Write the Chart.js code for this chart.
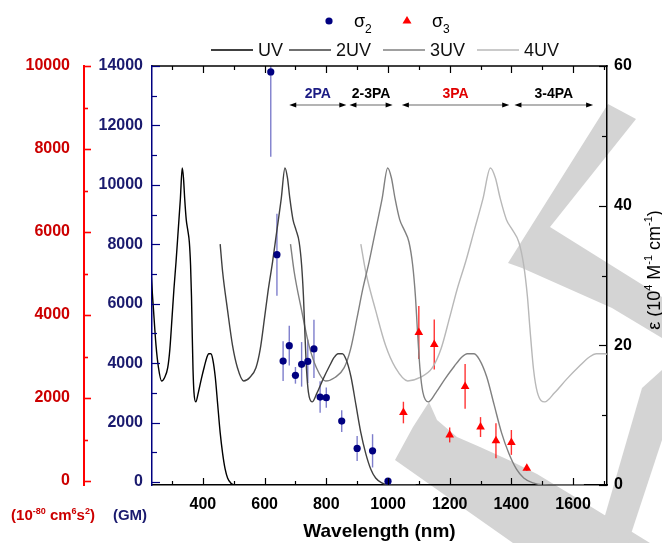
<!DOCTYPE html>
<html><head><meta charset="utf-8">
<script src="https://cdn.jsdelivr.net/npm/chart.js@4.4.1/dist/chart.umd.min.js"></script>
<style>html,body{margin:0;padding:0;background:#fff}#wrap{width:662px;height:543px}</style>
</head><body><div id="wrap"><canvas id="c" width="662" height="543"></canvas></div>
<script>
// ---------------- data ----------------
const uvWavelength  = [228,232,240,248,256,266,276,286,293,300,306,313,320,327,333,337,341,346,351,356,360,363,365,368,371,377,385,395,405,413,419,426,432,440,448,456,464,472,480,490,500,545];
const uv2Wavelength = [456,464,480,496,512,532,552,572,586,600,612,626,640,654,666,674,682,692,702,712,720,726,730,736,742,754,770,790,810,826,838,852,864,880,896,912,928,944,960,980,1000,1090];
const uv3Wavelength = [684,696,720,744,768,798,828,858,879,900,918,939,960,981,999,1011,1023,1038,1053,1068,1080,1089,1095,1104,1113,1131,1155,1185,1215,1239,1257,1278,1296,1320,1344,1368,1392,1416,1440,1470,1500,1635];
const uv4Wavelength = [912,928,960,992,1024,1064,1104,1144,1172,1200,1224,1252,1280,1308,1332,1348,1364,1384,1404,1424,1440,1452,1460,1472,1484,1508,1540,1580,1620,1652,1676,1704,1728,1760,1792,1824,1856,1888,1920,1960,2000,2180];
const uvEpsilon     = [34.5,30.5,25,20,16.8,14.9,15.4,16.8,19.5,24,28,32,36.5,41,45.4,44,41,38,36.5,34.8,31.5,27,22.5,16.5,13.3,11.9,13.2,15.2,17,18.3,18.8,18.8,18,15.5,11.5,7.5,4.5,2.3,1.0,0.3,0.05,0];

const sigma2Wavelength = [620,640,660,680,700,720,740,760,780,800,850,900,950,1000];
const sigma2Value      = [13800,7650,4070,4590,3590,3960,4060,4480,2860,2840,2050,1130,1050,30];
const sigma2Error      = [2850,1380,670,670,280,750,730,980,530,340,365,420,560,50];

const sigma3Wavelength = [1050,1100,1150,1200,1250,1300,1350,1400,1450];
const sigma3Value      = [1650,3580,3290,1110,2280,1300,970,930,310];
const sigma3Error      = [260,640,600,180,540,240,420,300,60];

const regionLabels = ['2PA','2-3PA','3PA','3-4PA'];
const regionStart  = [680,875,1045,1410];
const regionEnd    = [865,1015,1393,1665];

const xTicks      = [400,600,800,1000,1200,1400,1600];
const gmTicks     = [0,2000,4000,6000,8000,10000,12000,14000];
const sigma3Ticks = [0,2000,4000,6000,8000,10000];
const epsTicks    = [0,20,40,60];

// ---------------- helpers ----------------
const FONT = 'Liberation Sans';
const pts = (xs, ys) => xs.map((x, i) => ({x: x, y: ys[i]}));
const setTicks = arr => s => { s.ticks = arr.map(v => ({value: v})); };
const plain = v => String(v);
const tickFont = {family: FONT, size: 16, weight: 'bold'};

function drawRich(ctx, parts, x, y, size, weight, color) {
  const supSize = Math.round(size * 0.62);
  let w = 0;
  parts.forEach(p => {
    ctx.font = (weight ? weight + ' ' : '') + (p[1] ? supSize : size) + 'px ' + FONT;
    w += ctx.measureText(p[0]).width;
  });
  let cx = x - w / 2;
  ctx.fillStyle = color;
  ctx.textBaseline = 'alphabetic';
  ctx.textAlign = 'left';
  parts.forEach(p => {
    ctx.font = (weight ? weight + ' ' : '') + (p[1] ? supSize : size) + 'px ' + FONT;
    ctx.fillText(p[0], cx, p[1] ? y - size * 0.42 : y);
    cx += ctx.measureText(p[0]).width;
  });
}

// ---------------- plugins ----------------
const decor = {
  id: 'decor',
  beforeDraw(chart) {
    const ctx = chart.ctx;
    ctx.save();
    ctx.fillStyle = '#fff';
    ctx.fillRect(0, 0, chart.width, chart.height);
    // decorative background watermark (not data)
    ctx.fillStyle = 'rgb(212,212,212)';
    const polys = [
      [[608,104],[636,119],[550,227],[662,297],[662,338],[612,308],[522,268],[508,263]],
      [[429,402],[437,420],[457,437],[480,447],[513,462],[537,474],[580,500],[650,543],[513,543],[395,460],[413,427]],
      [[642,388],[662,370],[662,440],[628,543],[597,543]]
    ];
    polys.forEach(p => {
      ctx.beginPath();
      p.forEach((q, i) => i ? ctx.lineTo(q[0], q[1]) : ctx.moveTo(q[0], q[1]));
      ctx.closePath();
      ctx.fill();
    });
    ctx.restore();
  },
  beforeDatasetsDraw(chart) {
    const ctx = chart.ctx, xs = chart.scales.x, a = chart.chartArea;
    ctx.save();
    ctx.beginPath();
    ctx.rect(a.left, a.top, a.right - a.left, a.bottom - a.top);
    ctx.clip();
    const bars = (wl, val, err, scale, color) => {
      ctx.strokeStyle = color;
      ctx.lineWidth = 1.4;
      wl.forEach((w, i) => {
        const px = xs.getPixelForValue(w);
        ctx.beginPath();
        ctx.moveTo(px, scale.getPixelForValue(val[i] - err[i]));
        ctx.lineTo(px, scale.getPixelForValue(val[i] + err[i]));
        ctx.stroke();
      });
    };
    bars(sigma2Wavelength, sigma2Value, sigma2Error, chart.scales.y, 'rgba(40,40,170,0.6)');
    bars(sigma3Wavelength, sigma3Value, sigma3Error, chart.scales.y3, 'rgba(255,0,0,0.8)');
    ctx.restore();
  },
  afterDraw(chart) {
    const ctx = chart.ctx, a = chart.chartArea;
    const xs = chart.scales.x, yg = chart.scales.y, y3 = chart.scales.y3, ye = chart.scales.yE;
    ctx.save();
    // top frame
    ctx.strokeStyle = '#000';
    ctx.lineWidth = 1.5;
    ctx.beginPath(); ctx.moveTo(a.left, a.top); ctx.lineTo(a.right + 0.75, a.top); ctx.stroke();
    // x ticks (bottom & top, inward)
    ctx.lineWidth = 1.2;
    for (let v = 300; v <= 1700; v += 100) {
      const px = Math.round(xs.getPixelForValue(v)) + 0.5;
      const L = v % 200 === 0 ? 7 : 4;
      ctx.beginPath();
      ctx.moveTo(px, a.bottom); ctx.lineTo(px, a.bottom - L);
      ctx.moveTo(px, a.top); ctx.lineTo(px, a.top + L);
      ctx.stroke();
    }
    // right axis ticks
    for (let v = 0; v <= 60; v += 10) {
      const py = Math.round(ye.getPixelForValue(v)) + 0.5;
      const L = v % 20 === 0 ? 8 : 5;
      ctx.beginPath(); ctx.moveTo(a.right, py); ctx.lineTo(a.right - L, py); ctx.stroke();
    }
    // blue axis ticks
    ctx.strokeStyle = '#000080';
    for (let v = 0; v <= 14000; v += 1000) {
      const py = Math.round(yg.getPixelForValue(v)) + 0.5;
      const L = v % 2000 === 0 ? 8 : 5;
      ctx.beginPath(); ctx.moveTo(a.left, py); ctx.lineTo(a.left + L, py); ctx.stroke();
    }
    // red axis ticks
    ctx.strokeStyle = '#ff0000';
    ctx.lineWidth = 1.6;
    for (let v = 0; v <= 10000; v += 1000) {
      const py = Math.round(y3.getPixelForValue(v)) + 0.5;
      const L = v % 2000 === 0 ? 7 : 4;
      ctx.beginPath(); ctx.moveTo(y3.right, py); ctx.lineTo(y3.right + L, py); ctx.stroke();
    }
    // region arrows
    const regionColors = ['#1c1c84', '#000', '#e00000', '#000'];
    const ay = 105;
    regionLabels.forEach((lab, i) => {
      const x1 = xs.getPixelForValue(regionStart[i]);
      const x2 = xs.getPixelForValue(regionEnd[i]);
      ctx.strokeStyle = '#b4b4b4';
      ctx.lineWidth = 2;
      ctx.beginPath(); ctx.moveTo(x1 + 3, ay); ctx.lineTo(x2 - 3, ay); ctx.stroke();
      ctx.fillStyle = '#000';
      ctx.beginPath(); ctx.moveTo(x1, ay); ctx.lineTo(x1 + 7, ay - 2.5); ctx.lineTo(x1 + 7, ay + 2.5); ctx.closePath(); ctx.fill();
      ctx.beginPath(); ctx.moveTo(x2, ay); ctx.lineTo(x2 - 7, ay - 2.5); ctx.lineTo(x2 - 7, ay + 2.5); ctx.closePath(); ctx.fill();
      ctx.font = 'bold 14px ' + FONT;
      ctx.fillStyle = regionColors[i];
      ctx.textAlign = 'center';
      ctx.textBaseline = 'alphabetic';
      ctx.fillText(lab, (x1 + x2) / 2, 97.5);
    });
    // legend row 1
    ctx.fillStyle = '#000080';
    ctx.beginPath(); ctx.arc(329, 21, 3.6, 0, Math.PI * 2); ctx.fill();
    ctx.fillStyle = '#ff0000';
    ctx.beginPath(); ctx.moveTo(407, 16); ctx.lineTo(411.5, 23.5); ctx.lineTo(402.5, 23.5); ctx.closePath(); ctx.fill();
    ctx.fillStyle = '#000';
    ctx.textAlign = 'left';
    ctx.font = '18px ' + FONT;
    ctx.fillText('σ', 354, 26.5);
    ctx.fillText('σ', 432, 26.5);
    ctx.font = '12px ' + FONT;
    ctx.fillText('2', 365, 32.5);
    ctx.fillText('3', 443, 32.5);
    // legend row 2
    const leg = [['UV', '#000', 211], ['2UV', '#404040', 289], ['3UV', '#808080', 383], ['4UV', '#b8b8b8', 477]];
    leg.forEach(l => {
      ctx.strokeStyle = l[1];
      ctx.lineWidth = 1.4;
      ctx.beginPath(); ctx.moveTo(l[2], 50); ctx.lineTo(l[2] + 42, 50); ctx.stroke();
      ctx.fillStyle = '#111';
      ctx.font = '18px ' + FONT;
      ctx.fillText(l[0], l[2] + 47, 56);
    });
    // unit labels under left axes
    drawRich(ctx, [['(10', 0], ['-80', 1], [' cm', 0], ['6', 1], ['s', 0], ['2', 1], [')', 0]], 53, 520, 15, 'bold', '#cc0000');
    drawRich(ctx, [['(GM)', 0]], 130, 520, 15, 'bold', '#1a1a6e');
    // right axis title (rotated, reading upward)
    ctx.translate(654, 270);
    ctx.rotate(-Math.PI / 2);
    drawRich(ctx, [['ε (10', 0], ['4', 1], [' M', 0], ['-1', 1], [' cm', 0], ['-1', 1], [')', 0]], 0, 6, 18, '', '#000');
    ctx.restore();
  }
};

// ---------------- chart ----------------
const lineDs = (label, xs, color) => ({
  label: label, data: pts(xs, uvEpsilon), yAxisID: 'yE', showLine: true,
  borderColor: color, borderWidth: 1.4, pointRadius: 0, fill: false,
  cubicInterpolationMode: 'monotone', order: 2
});

new Chart(document.getElementById('c'), {
  type: 'scatter',
  data: {
    datasets: [
      {label: 'σ2', data: pts(sigma2Wavelength, sigma2Value), yAxisID: 'y', pointStyle: 'circle',
       pointRadius: 3.6, backgroundColor: '#000080', borderColor: '#000080', borderWidth: 0, order: 0},
      {label: 'σ3', data: pts(sigma3Wavelength, sigma3Value), yAxisID: 'y3', pointStyle: 'triangle',
       pointRadius: 5, backgroundColor: '#ff0000', borderColor: '#ff0000', borderWidth: 0, order: 0},
      lineDs('UV', uvWavelength, '#000000'),
      lineDs('2UV', uv2Wavelength, '#404040'),
      lineDs('3UV', uv3Wavelength, '#808080'),
      lineDs('4UV', uv4Wavelength, '#b8b8b8')
    ]
  },
  options: {
    responsive: false, animation: false, devicePixelRatio: 1,
    layout: {padding: {top: 66, left: 0, right: 0, bottom: 0}},
    plugins: {legend: {display: false}, tooltip: {enabled: false}},
    scales: {
      x: {type: 'linear', position: 'bottom', min: 235, max: 1710,
          afterBuildTicks: setTicks(xTicks), afterFit: s => { s.height = 58; },
          grid: {display: false, drawTicks: false}, border: {display: true, color: '#000', width: 1.5},
          ticks: {padding: 10, color: '#000', font: tickFont, maxRotation: 0, autoSkip: false, callback: plain},
          title: {display: true, text: 'Wavelength (nm)', color: '#000',
                  font: {family: FONT, size: 19, weight: 'bold'}, padding: {top: 0, bottom: 0}}},
      y: {type: 'linear', position: 'left', weight: 0, min: -100, max: 14000,
          afterBuildTicks: setTicks(gmTicks), afterFit: s => { s.width = 68; },
          grid: {display: false, drawTicks: false}, border: {display: true, color: '#000080', width: 1.5},
          ticks: {padding: 9, color: '#1a1a6e', font: tickFont, autoSkip: false, callback: plain}},
      y3: {type: 'linear', position: 'left', weight: 1, min: -96, max: 10000,
          afterBuildTicks: setTicks(sigma3Ticks), afterFit: s => { s.width = 84; },
          grid: {display: false, drawTicks: false}, border: {display: true, color: '#ff0000', width: 2},
          ticks: {padding: 14, color: '#cc0000', font: tickFont, autoSkip: false, callback: plain}},
      yE: {type: 'linear', position: 'right', min: 0, max: 60,
          afterBuildTicks: setTicks(epsTicks), afterFit: s => { s.width = 55; },
          grid: {display: false, drawTicks: false}, border: {display: true, color: '#000', width: 1.5},
          ticks: {padding: 7, color: '#000', font: tickFont, autoSkip: false, callback: plain}}
    }
  },
  plugins: [decor]
});
</script>
</body></html>
